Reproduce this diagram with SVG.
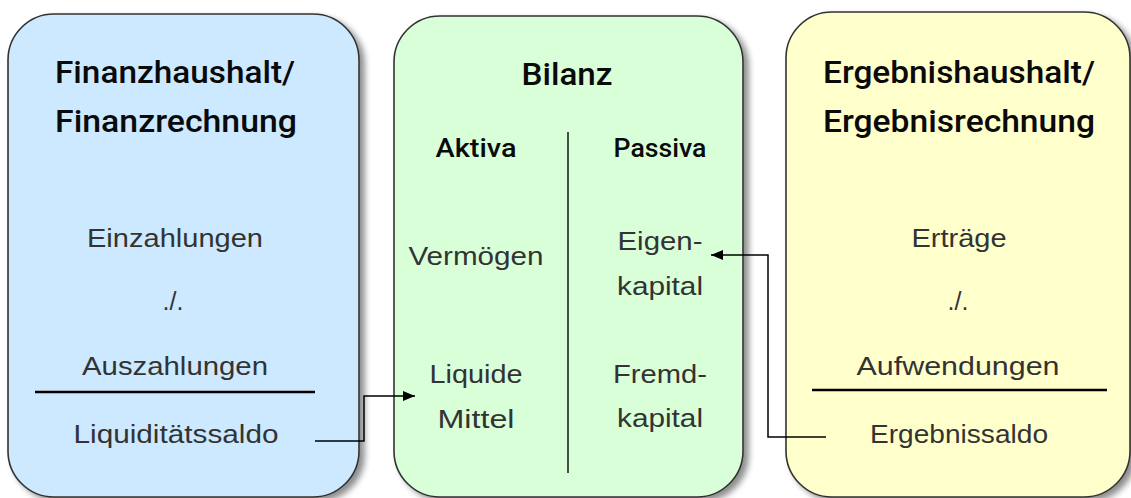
<svg xmlns="http://www.w3.org/2000/svg" width="1131" height="498" viewBox="0 0 1131 498">
  <defs>
    <filter id="shadow" x="-10%" y="-10%" width="125%" height="125%">
      <feGaussianBlur in="SourceAlpha" stdDeviation="3"/>
      <feOffset dx="5" dy="4" result="b"/>
      <feComponentTransfer><feFuncA type="linear" slope="0.45"/></feComponentTransfer>
      <feMerge><feMergeNode/><feMergeNode in="SourceGraphic"/></feMerge>
    </filter>
    <marker id="arrow" viewBox="0 0 12 10" refX="12" refY="5" markerWidth="12" markerHeight="10" markerUnits="userSpaceOnUse" orient="auto">
      <path d="M0,0 L12,5 L0,10 Z" fill="#000"/>
    </marker>
  </defs>
  <style>
    .box { stroke: #333; stroke-width: 1.6; filter: url(#shadow); }
    .title { font-family: Roboto, "Liberation Sans", sans-serif; font-weight: 500; font-size: 31px; fill: #0a0a0a; text-anchor: middle; }
    .head { font-family: Roboto, "Liberation Sans", sans-serif; font-weight: 500; font-size: 26px; fill: #0a0a0a; text-anchor: middle; }
    .body { font-family: "Liberation Sans", Arial, sans-serif; font-size: 25px; fill: #333; text-anchor: middle; }
    .rule { stroke: #000; stroke-width: 2.5; }
    .conn { fill: none; stroke: #000; stroke-width: 1.5; }
  </style>
  <rect width="1131" height="498" fill="#fff"/>

  <g id="finanzhaushalt">
    <rect class="box" x="8" y="14" width="351" height="483" rx="46" ry="46" fill="#cce9ff"/>
    <text class="title" x="175" y="83" textLength="240" lengthAdjust="spacingAndGlyphs">Finanzhaushalt/</text>
    <text class="title" x="176" y="132" textLength="242" lengthAdjust="spacingAndGlyphs">Finanzrechnung</text>
    <text class="body" x="175" y="247" textLength="176" lengthAdjust="spacingAndGlyphs">Einzahlungen</text>
    <text class="body" x="173" y="310">./.</text>
    <text class="body" x="175" y="375" textLength="186" lengthAdjust="spacingAndGlyphs">Auszahlungen</text>
    <line class="rule" x1="35" y1="392" x2="315" y2="392"/>
    <text class="body" x="176" y="443" textLength="205" lengthAdjust="spacingAndGlyphs">Liquiditätssaldo</text>
  </g>

  <g id="bilanz">
    <rect class="box" x="394" y="16" width="349" height="481" rx="46" ry="46" fill="#d9ffd9"/>
    <text class="title" x="567" y="85" textLength="91" lengthAdjust="spacingAndGlyphs">Bilanz</text>
    <text class="head" x="476" y="157" textLength="81" lengthAdjust="spacingAndGlyphs">Aktiva</text>
    <text class="head" x="660" y="157" textLength="93" lengthAdjust="spacingAndGlyphs">Passiva</text>
    <line x1="568" y1="132" x2="568" y2="473" stroke="#222" stroke-width="1.6"/>
    <text class="body" x="476" y="265" textLength="135" lengthAdjust="spacingAndGlyphs">Vermögen</text>
    <text class="body" x="660" y="250" textLength="85" lengthAdjust="spacingAndGlyphs">Eigen-</text>
    <text class="body" x="660" y="295" textLength="86" lengthAdjust="spacingAndGlyphs">kapital</text>
    <text class="body" x="476" y="383" textLength="93" lengthAdjust="spacingAndGlyphs">Liquide</text>
    <text class="body" x="476" y="428" textLength="77" lengthAdjust="spacingAndGlyphs">Mittel</text>
    <text class="body" x="660" y="383" textLength="94" lengthAdjust="spacingAndGlyphs">Fremd-</text>
    <text class="body" x="660" y="427" textLength="86" lengthAdjust="spacingAndGlyphs">kapital</text>
  </g>

  <g id="ergebnishaushalt">
    <rect class="box" x="786" y="12" width="344" height="485" rx="46" ry="46" fill="#ffffcc"/>
    <text class="title" x="959" y="83" textLength="272" lengthAdjust="spacingAndGlyphs">Ergebnishaushalt/</text>
    <text class="title" x="959" y="132" textLength="272" lengthAdjust="spacingAndGlyphs">Ergebnisrechnung</text>
    <text class="body" x="959" y="247" textLength="95" lengthAdjust="spacingAndGlyphs">Erträge</text>
    <text class="body" x="958" y="310">./.</text>
    <text class="body" x="958" y="375" textLength="203" lengthAdjust="spacingAndGlyphs">Aufwendungen</text>
    <line class="rule" x1="812" y1="390" x2="1107" y2="390"/>
    <text class="body" x="959" y="443" textLength="178" lengthAdjust="spacingAndGlyphs">Ergebnissaldo</text>
  </g>

  <g id="connectors">
    <path class="conn" d="M315,441 H364 V396 H415" marker-end="url(#arrow)"/>
    <path class="conn" d="M826,437 H768 V255 H711" marker-end="url(#arrow)"/>
  </g>
</svg>
